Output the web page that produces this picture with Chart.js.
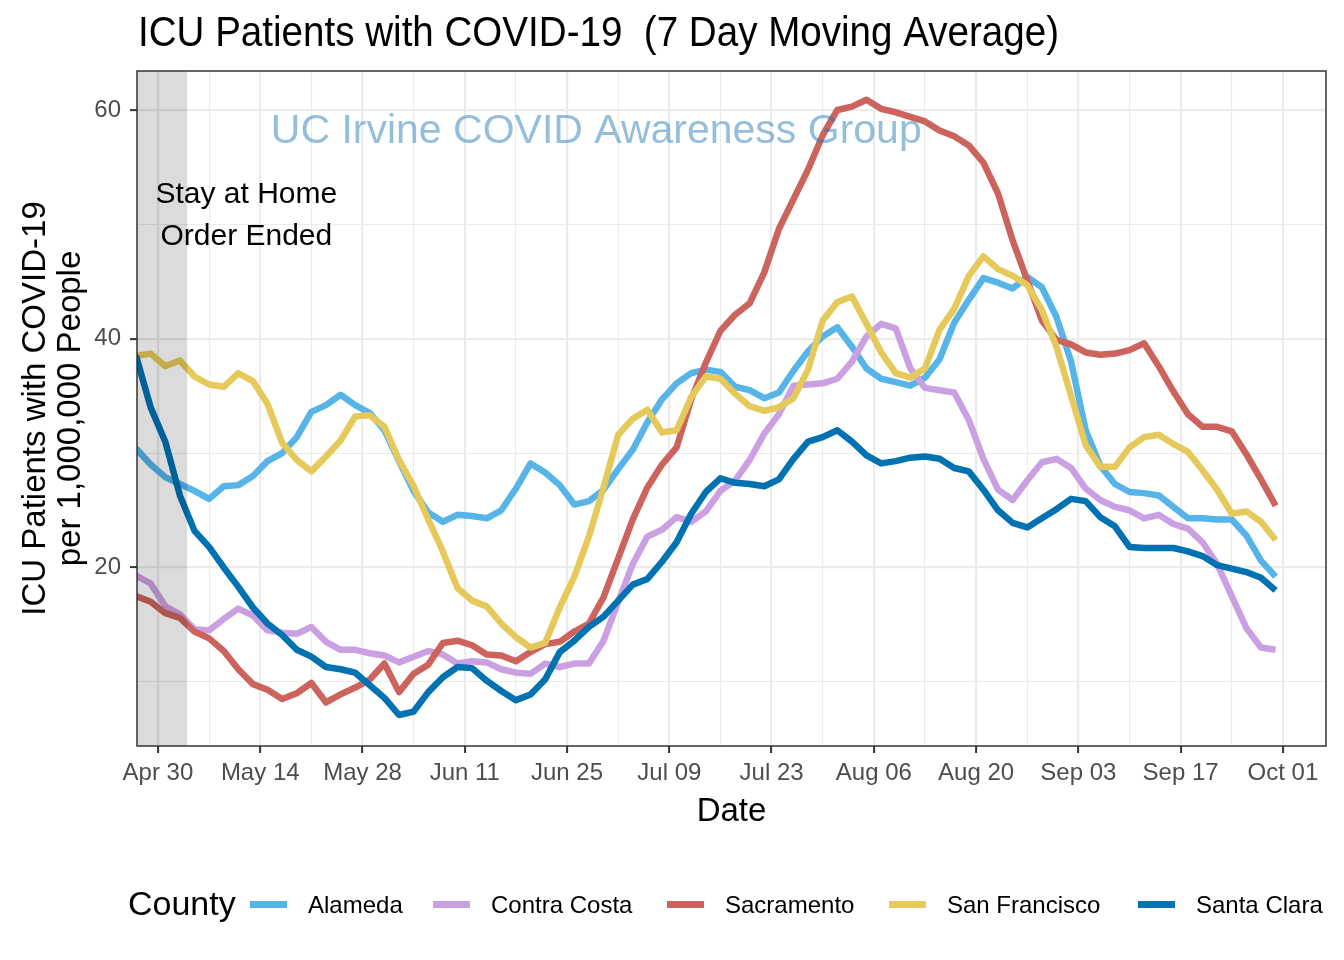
<!DOCTYPE html>
<html>
<head>
<meta charset="utf-8">
<script src="https://cdn.jsdelivr.net/npm/chart.js@4.4.1/dist/chart.umd.min.js"></script>
<style>
html,body{margin:0;padding:0;background:#ffffff;}
#wrap{width:1344px;height:960px;position:relative;}
</style>
</head>
<body>
<div id="wrap"><canvas id="c" width="1344" height="960"></canvas></div>
<script>
// ---------------- data ----------------
const dates = [
 "2020-04-27","2020-04-29",
 "2020-05-01","2020-05-03","2020-05-05","2020-05-07","2020-05-09","2020-05-11","2020-05-13","2020-05-15",
 "2020-05-17","2020-05-19","2020-05-21","2020-05-23","2020-05-25","2020-05-27","2020-05-29","2020-05-31",
 "2020-06-02","2020-06-04","2020-06-06","2020-06-08","2020-06-10","2020-06-12","2020-06-14","2020-06-16",
 "2020-06-18","2020-06-20","2020-06-22","2020-06-24","2020-06-26","2020-06-28","2020-06-30",
 "2020-07-02","2020-07-04","2020-07-06","2020-07-08","2020-07-10","2020-07-12","2020-07-14","2020-07-16",
 "2020-07-18","2020-07-20","2020-07-22","2020-07-24","2020-07-26","2020-07-28","2020-07-30",
 "2020-08-01","2020-08-03","2020-08-05","2020-08-07","2020-08-09","2020-08-11","2020-08-13","2020-08-15",
 "2020-08-17","2020-08-19","2020-08-21","2020-08-23","2020-08-25","2020-08-27","2020-08-29","2020-08-31",
 "2020-09-02","2020-09-04","2020-09-06","2020-09-08","2020-09-10","2020-09-12","2020-09-14","2020-09-16",
 "2020-09-18","2020-09-20","2020-09-22","2020-09-24","2020-09-26","2020-09-28","2020-09-30"
];

const counties = ["Alameda", "Contra Costa", "Sacramento", "San Francisco", "Santa Clara"];
const countyColors = ["#56B4E9", "#CBA0E3", "#CC635C", "#E5C95A", "#0072B2"];

const alameda = [
 30.4, 29.0, 27.9, 27.3, 26.7, 26.0, 27.1, 27.2, 28.0, 29.3,
 30.0, 31.4, 33.6, 34.2, 35.1, 34.2, 33.5, 32.0, 29.3, 26.7,
 24.8, 24.0, 24.6, 24.5, 24.3, 25.0, 26.9, 29.1, 28.3, 27.2,
 25.5, 25.8, 26.8, 28.6, 30.3, 32.7, 34.7, 36.1, 37.0, 37.3,
 37.1, 35.8, 35.5, 34.8, 35.3, 37.2, 38.9, 40.2, 41.0, 39.3,
 37.4, 36.5, 36.2, 35.9, 36.6, 38.2, 41.4, 43.4, 45.3, 44.9,
 44.4, 45.4, 44.5, 41.9, 38.0, 32.0, 28.9, 27.3, 26.6, 26.5,
 26.3, 25.3, 24.3, 24.3, 24.2, 24.2, 22.8, 20.6, 19.2
];
const contraCosta = [
 19.3, 18.6, 16.6, 15.9, 14.6, 14.5, 15.5, 16.4, 15.8, 14.5,
 14.3, 14.2, 14.8, 13.5, 12.8, 12.8, 12.5, 12.3, 11.7, 12.2,
 12.7, 12.4, 11.6, 11.8, 11.7, 11.1, 10.8, 10.7, 11.6, 11.3,
 11.6, 11.6, 13.6, 17.0, 20.3, 22.7, 23.3, 24.4, 24.0, 24.9,
 26.7, 27.6, 29.4, 31.7, 33.4, 35.9, 36.0, 36.1, 36.5, 38.0,
 40.2, 41.3, 40.9, 37.4, 35.7, 35.5, 35.3, 32.9, 29.5, 26.8,
 25.9, 27.6, 29.2, 29.5, 28.7, 26.9, 25.9, 25.3, 25.0, 24.3,
 24.6, 23.8, 23.4, 22.2, 20.3, 17.5, 14.7, 13.0, 12.8
];
const sacramento = [
 17.5, 17.0, 16.0, 15.6, 14.4, 13.8, 12.7, 11.1, 9.8, 9.3,
 8.5, 9.0, 9.9, 8.2, 8.9, 9.5, 10.2, 11.6, 9.1, 10.7,
 11.5, 13.4, 13.6, 13.2, 12.4, 12.3, 11.8, 12.6, 13.3, 13.5,
 14.4, 15.1, 17.4, 20.8, 24.2, 27.0, 29.0, 30.5, 34.7, 37.9,
 40.7, 42.1, 43.1, 45.8, 49.6, 52.2, 54.8, 57.8, 60.0, 60.3,
 60.9, 60.1, 59.8, 59.4, 59.0, 58.2, 57.7, 56.9, 55.4, 52.7,
 48.6, 45.1, 41.6, 39.9, 39.5, 38.8, 38.6, 38.7, 39.0, 39.6,
 37.6, 35.4, 33.4, 32.3, 32.3, 31.9, 29.9, 27.7, 25.4
];
const sanFrancisco = [
 38.5, 38.7, 37.6, 38.1, 36.7, 36.0, 35.8, 37.0, 36.3, 34.3,
 30.9, 29.4, 28.4, 29.7, 31.1, 33.2, 33.3, 32.3, 29.4, 27.1,
 24.2, 21.4, 18.2, 17.1, 16.6, 15.1, 13.9, 13.0, 13.4, 16.5,
 19.2, 22.7, 27.0, 31.6, 33.0, 33.8, 31.8, 32.0, 34.9, 36.7,
 36.5, 35.2, 34.1, 33.7, 34.0, 34.8, 37.3, 41.6, 43.2, 43.7,
 41.3, 38.8, 37.0, 36.6, 37.4, 40.8, 42.6, 45.5, 47.2, 46.1,
 45.5, 44.7, 42.5, 39.3, 35.0, 30.7, 28.8, 28.8, 30.5, 31.4,
 31.6, 30.8, 30.1, 28.5, 26.8, 24.7, 24.9, 24.0, 22.4
];
const santaClara = [
 38.5, 34.0, 31.0, 26.3, 23.2, 21.8, 20.0, 18.3, 16.5, 15.1,
 14.1, 12.8, 12.2, 11.3, 11.1, 10.8, 9.7, 8.6, 7.1, 7.4,
 9.1, 10.4, 11.3, 11.2, 10.1, 9.2, 8.4, 8.9, 10.2, 12.6,
 13.6, 14.8, 15.7, 17.1, 18.5, 19.0, 20.5, 22.2, 24.7, 26.6,
 27.8, 27.4, 27.3, 27.1, 27.7, 29.5, 31.0, 31.4, 32.0, 31.0,
 29.8, 29.1, 29.3, 29.6, 29.7, 29.5, 28.7, 28.4, 26.8, 25.0,
 23.9, 23.5, 24.3, 25.1, 26.0, 25.8, 24.4, 23.6, 21.8, 21.7,
 21.7, 21.7, 21.4, 21.0, 20.2, 19.9, 19.6, 19.1, 18.0
];

const tickDates = ["2020-04-30","2020-05-14","2020-05-28","2020-06-11","2020-06-25","2020-07-09",
                   "2020-07-23","2020-08-06","2020-08-20","2020-09-03","2020-09-17","2020-10-01"];
const tickLabels = ["Apr 30","May 14","May 28","Jun 11","Jun 25","Jul 09",
                    "Jul 23","Aug 06","Aug 20","Sep 03","Sep 17","Oct 01"];
const minorTickDates = ["2020-05-07","2020-05-21","2020-06-04","2020-06-18","2020-07-02","2020-07-16",
                        "2020-07-30","2020-08-13","2020-08-27","2020-09-10","2020-09-24"];
const yMajorTicks = [20, 40, 60];
const yMinorTicks = [10, 30, 50];

const stayHomePeriod = ["2020-04-27", "2020-05-04"];
const annotationLines = ["Stay at Home", "Order Ended"];
const watermarkText = "UC Irvine COVID Awareness Group";
const titleText = "ICU Patients with COVID-19  (7 Day Moving Average)";
const yTitleLines = ["ICU Patients with COVID-19", "per 1,000,000 People"];
const xTitleText = "Date";
const legendTitle = "County";

// ---------------- helpers ----------------
const ORIGIN = Date.UTC(2020, 3, 30);
function toDay(s) {
  return (Date.UTC(+s.slice(0, 4), +s.slice(5, 7) - 1, +s.slice(8, 10)) - ORIGIN) / 864e5;
}
const xs = dates.map(toDay);
const majorX = tickDates.map(toDay);
const minorX = minorTickDates.map(toDay);
const X_MIN = -2.87, X_MAX = 159.9;
const Y_MIN = 4.39, Y_MAX = 63.41;
const FONT = '"Liberation Sans", Arial, Helvetica, sans-serif';

const seriesValues = [alameda, contraCosta, sacramento, sanFrancisco, santaClara];

function isMajorX(v) { return majorX.some(m => Math.abs(m - v) < 1e-6); }
function isMajorY(v) { return yMajorTicks.some(m => Math.abs(m - v) < 1e-6); }

const panelPlugin = {
  id: 'panelDecor',
  afterDatasetsDraw(chart) {
    const { ctx, chartArea: a, scales: { x, y } } = chart;
    ctx.save();
    ctx.beginPath();
    ctx.rect(a.left, a.top, a.right - a.left, a.bottom - a.top);
    ctx.clip();
    // shaded stay-at-home period
    const sx0 = x.getPixelForValue(toDay(stayHomePeriod[0]) - 1);
    const sx1 = x.getPixelForValue(toDay(stayHomePeriod[1]));
    ctx.fillStyle = 'rgba(0,0,0,0.14)';
    ctx.fillRect(sx0, a.top, sx1 - sx0, a.bottom - a.top);
    // watermark
    ctx.font = '41px ' + FONT;
    ctx.fillStyle = 'rgba(31,119,180,0.48)';
    ctx.textAlign = 'center';
    ctx.textBaseline = 'alphabetic';
    ctx.fillText(watermarkText, x.getPixelForValue(60), y.getPixelForValue(57.1));
    // annotation
    ctx.fillStyle = '#000000';
    ctx.font = '30px ' + FONT;
    const ax = x.getPixelForValue(12.1);
    ctx.fillText(annotationLines[0], ax, y.getPixelForValue(51.83));
    ctx.fillText(annotationLines[1], ax, y.getPixelForValue(48.2));
    ctx.restore();
    // panel border
    ctx.save();
    ctx.strokeStyle = '#333333';
    ctx.lineWidth = 1.5;
    ctx.strokeRect(a.left, a.top, a.right - a.left, a.bottom - a.top);
    ctx.restore();
  },
  afterDraw(chart) {
    const { ctx, chartArea: a } = chart;
    ctx.save();
    ctx.fillStyle = '#000000';
    ctx.textBaseline = 'alphabetic';
    // title (fitted to reference width)
    ctx.font = '42px ' + FONT;
    ctx.textAlign = 'left';
    const tw = ctx.measureText(titleText).width;
    const target = 921;
    ctx.save();
    ctx.translate(a.left + 1, 46);
    ctx.scale(target / tw, 1);
    ctx.fillText(titleText, 0, 0);
    ctx.restore();
    // x title
    ctx.font = '33px ' + FONT;
    ctx.textAlign = 'center';
    ctx.fillText(xTitleText, (a.left + a.right) / 2, 821);
    // y title
    ctx.save();
    ctx.translate(0, (a.top + a.bottom) / 2);
    ctx.rotate(-Math.PI / 2);
    ctx.fillText(yTitleLines[0], 0, 45);
    ctx.fillText(yTitleLines[1], 0, 80);
    ctx.restore();
    // legend
    ctx.textAlign = 'left';
    ctx.font = '34px ' + FONT;
    ctx.fillText(legendTitle, 128, 915);
    const keyX = [250, 433, 667, 889, 1138];
    ctx.font = '24px ' + FONT;
    chart.data.datasets.forEach((ds, i) => {
      ctx.fillStyle = ds.borderColor;
      ctx.fillRect(keyX[i], 901, 37, 7);
      ctx.fillStyle = '#000000';
      ctx.fillText(ds.label, keyX[i] + 58, 913);
    });
    ctx.restore();
  }
};

const datasets = counties.map((name, i) => ({
  label: name,
  data: seriesValues[i],
  borderColor: countyColors[i],
  backgroundColor: countyColors[i],
  borderWidth: 6.5,
  pointRadius: 0,
  tension: 0,
  fill: false,
  borderJoinStyle: 'round',
  borderCapStyle: 'butt',
  order: 5 - i
}));

new Chart(document.getElementById('c'), {
  type: 'line',
  data: { labels: xs, datasets },
  options: {
    responsive: false,
    animation: false,
    devicePixelRatio: 1,
    layout: { padding: { left: 0, top: 71, right: 18, bottom: 0 } },
    plugins: { legend: { display: false }, tooltip: { enabled: false }, title: { display: false } },
    scales: {
      x: {
        type: 'linear',
        min: X_MIN, max: X_MAX,
        afterBuildTicks: s => { s.ticks = majorX.concat(minorX).sort((p, q) => p - q).map(v => ({ value: v })); },
        afterFit: s => { s.height = 214; },
        border: { display: false },
        grid: {
          color: '#EBEBEB',
          lineWidth: c => (c.tick && isMajorX(c.tick.value)) ? 2.2 : 1.1,
          drawTicks: true,
          tickLength: 7,
          tickWidth: 2,
          tickColor: c => (c.tick && isMajorX(c.tick.value)) ? '#333333' : 'rgba(0,0,0,0)'
        },
        ticks: {
          autoSkip: false, maxRotation: 0, minRotation: 0,
          padding: 6,
          color: '#4D4D4D',
          font: { family: FONT, size: 24 },
          callback: v => { const k = majorX.findIndex(m => Math.abs(m - v) < 1e-6); return k >= 0 ? tickLabels[k] : ''; }
        }
      },
      y: {
        type: 'linear',
        min: Y_MIN, max: Y_MAX,
        afterBuildTicks: s => { s.ticks = yMinorTicks.concat(yMajorTicks).sort((p, q) => p - q).map(v => ({ value: v })); },
        afterFit: s => { s.width = 137; },
        border: { display: false },
        grid: {
          color: '#EBEBEB',
          lineWidth: c => (c.tick && isMajorY(c.tick.value)) ? 2.2 : 1.1,
          drawTicks: true,
          tickLength: 7,
          tickWidth: 2,
          tickColor: c => (c.tick && isMajorY(c.tick.value)) ? '#333333' : 'rgba(0,0,0,0)'
        },
        ticks: {
          padding: 9,
          color: '#4D4D4D',
          font: { family: FONT, size: 24 },
          callback: v => isMajorY(v) ? String(v) : ''
        }
      }
    }
  },
  plugins: [panelPlugin]
});
</script>
</body>
</html>
